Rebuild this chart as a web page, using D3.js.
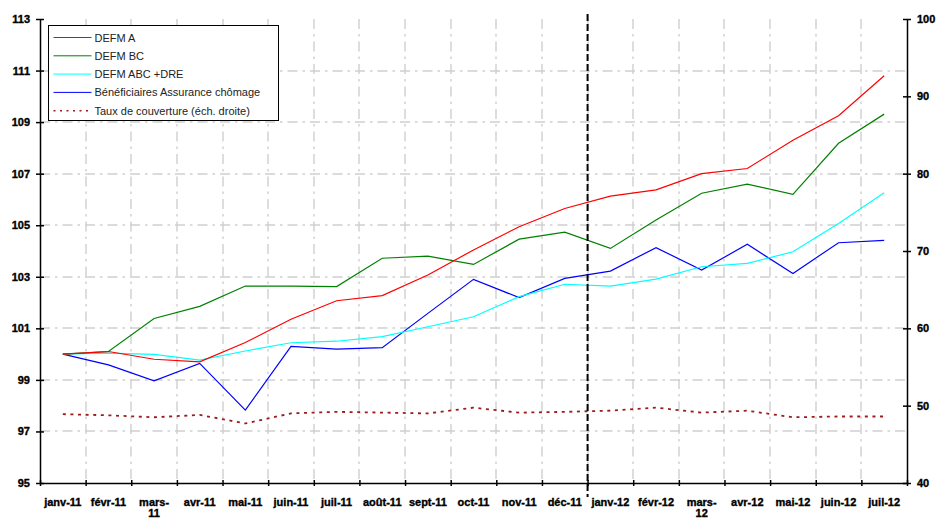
<!DOCTYPE html>
<html>
<head>
<meta charset="utf-8">
<script src="https://cdn.jsdelivr.net/npm/d3@7"></script>
<style>
  body { margin: 0; background: #fff; }
  svg { display: block; font-family: "Liberation Sans", Arial, sans-serif; }
  .axis text { font-size: 11px; font-weight: bold; fill: #000; stroke: #000; stroke-width: 0.35px; }
  .axis path, .axis line { stroke: #000; stroke-width: 1.5px; }
</style>
</head>
<body>
<script>
  //==DATA==//
  const months = ["janv-11","févr-11","mars-11","avr-11","mai-11","juin-11","juil-11","août-11","sept-11","oct-11","nov-11","déc-11",
    "janv-12","févr-12","mars-12","avr-12","mai-12","juin-12","juil-12"];

  const defmA = [100, 100.1, 99.8, 99.7, 100.45, 101.35, 102.07, 102.27, 103.07, 104.04, 104.94, 105.65,
    106.13, 106.37, 107.0, 107.2, 108.3, 109.25, 110.8];
  const defmBC = [100, 100.1, 101.38, 101.85, 102.64, 102.64, 102.62, 103.72, 103.8, 103.48, 104.46, 104.73,
    104.1, 105.2, 106.24, 106.59, 106.2, 108.18, 109.31];
  const defmABCDRE = [100, 100.04, 99.99, 99.77, 100.12, 100.44, 100.5, 100.68, 101.06, 101.45, 102.23, 102.71,
    102.64, 102.91, 103.39, 103.52, 103.97, 105.07, 106.26];
  const beneficiaires = [100, 99.58, 98.96, 99.64, 97.83, 100.3, 100.19, 100.25, 101.58, 102.9, 102.19, 102.94,
    103.22, 104.13, 103.26, 104.26, 103.13, 104.32, 104.41];
  const tauxCouverture = [48.9, 48.75, 48.5, 48.8, 47.7, 49.0, 49.2, 49.1, 49.0, 49.74, 49.1, 49.2,
    49.35, 49.74, 49.1, 49.35, 48.5, 48.6, 48.6];

  const leftTicks = [95, 97, 99, 101, 103, 105, 107, 109, 111, 113];
  const rightTicks = [40, 50, 60, 70, 80, 90, 100];
  const legendLabels = ["DEFM A", "DEFM BC", "DEFM ABC  +DRE", "Bénéficiaires Assurance chômage", "Taux de couverture (éch. droite)"];

  //=SVG AREA=//
  const width = 938;
  const height = 522;
  const plotLeft = 40, plotRight = 907, plotTop = 19, plotBottom = 483;

  const svg = d3.select("body")
  .append("svg")
  .attr("width", width)
  .attr("height", height);

  //==SCALES==//
  const x = d3.scaleBand().domain(months).range([plotLeft, plotRight]).padding(0);
  const xEdge = d3.scaleLinear().domain([0, months.length]).range([plotLeft, plotRight]);
  const yLeft = d3.scaleLinear().domain([95, 113]).range([plotBottom, plotTop]);
  const yRight = d3.scaleLinear().domain([40, 100]).range([plotBottom, plotTop]);
  const cx = (i) => x(months[i]) + x.bandwidth() / 2;

  //==GRID==//
  const grid = svg.append("g").attr("stroke", "#cfcfcf").attr("stroke-width", 1.4)
  .attr("stroke-dasharray", "10,5,2.5,5");

  grid.selectAll(".hgrid")
  .data(leftTicks.filter(d => d > 95 && d < 113))
  .enter()
  .append("line")
  .attr("x1", plotLeft).attr("x2", plotRight)
  .attr("y1", d => Math.round(yLeft(d)))
  .attr("y2", d => Math.round(yLeft(d)));

  grid.selectAll(".vgrid")
  .data(d3.range(1, months.length))
  .enter()
  .append("line")
  .attr("x1", d => Math.round(xEdge(d)))
  .attr("x2", d => Math.round(xEdge(d)))
  .attr("y1", plotTop).attr("y2", plotBottom);

  //==AXES==//
  const axisLeft = svg.append("g")
  .attr("class", "axis")
  .attr("transform", "translate(" + plotLeft + ",0)")
  .call(d3.axisLeft(yLeft).tickValues(leftTicks).tickSizeInner(4).tickSizeOuter(0).tickPadding(6));
  axisLeft.selectAll(".tick line").attr("x1", 4);

  const axisRight = svg.append("g")
  .attr("class", "axis")
  .attr("transform", "translate(" + plotRight + ",0)")
  .call(d3.axisRight(yRight).tickValues(rightTicks).tickSizeInner(4).tickSizeOuter(0).tickPadding(6));
  axisRight.selectAll(".tick line").attr("x1", -4);

  // tick marks at category edges
  const axisTicks = svg.append("g")
  .attr("class", "axis")
  .attr("transform", "translate(0," + plotBottom + ")")
  .call(d3.axisBottom(xEdge).tickValues(d3.range(0, months.length + 1)).tickFormat("").tickSizeInner(3).tickSizeOuter(0));
  axisTicks.selectAll(".tick line").attr("y1", -3);

  // month labels between ticks, "mars" wrapped on two lines
  const axisLabels = svg.append("g")
  .attr("class", "axis")
  .attr("transform", "translate(0," + plotBottom + ")")
  .call(d3.axisBottom(x).tickSize(0).tickPadding(15));
  axisLabels.select(".domain").remove();
  axisLabels.selectAll(".tick text").each(function(d) {
    if (d.indexOf("mars") === 0) {
      const t = d3.select(this);
      const parts = d.split("-");
      t.text(null);
      t.append("tspan").attr("x", 0).text(parts[0] + "-");
      t.append("tspan").attr("x", 0).attr("dy", "1.05em").text(parts[1]);
    }
  });

  //==LINES==//
  const lineLeft = d3.line().x((d, i) => cx(i)).y(d => yLeft(d));
  const lineRight = d3.line().x((d, i) => cx(i)).y(d => yRight(d));

  svg.append("path").datum(tauxCouverture)
  .attr("fill", "none").attr("stroke", "#9a1c1c").attr("stroke-width", 1.8)
  .attr("stroke-dasharray", "3,4.6").attr("d", lineRight);

  const series = [
    {data: beneficiaires, colour: "#0000ff"},
    {data: defmABCDRE, colour: "#00ffff"},
    {data: defmBC, colour: "#008000"},
    {data: defmA, colour: "#ff0000"}
  ];
  series.forEach(function(s) {
    svg.append("path").datum(s.data)
    .attr("fill", "none").attr("stroke", s.colour).attr("stroke-width", 1.2)
    .attr("d", lineLeft);
  });

  // break between 2011 and 2012
  svg.append("line")
  .attr("x1", xEdge(12)).attr("x2", xEdge(12))
  .attr("y1", 14).attr("y2", 497)
  .attr("stroke", "#000").attr("stroke-width", 2)
  .attr("stroke-dasharray", "7,3");

  //==LEGEND==//
  const legend = svg.append("g").attr("transform", "translate(48.5,25.5)");
  legend.append("rect")
  .attr("width", 230).attr("height", 95)
  .attr("fill", "#fff").attr("stroke", "#000").attr("stroke-width", 1);

  const legendColours = ["#ff0000", "#008000", "#00ffff", "#0000ff", "#9a1c1c"];
  const rows = legend.selectAll(".row")
  .data(legendLabels)
  .enter()
  .append("g")
  .attr("transform", (d, i) => "translate(0," + (12 + i * 18.3) + ")");

  rows.append("line")
  .attr("x1", 5).attr("x2", 43)
  .attr("stroke", (d, i) => legendColours[i])
  .attr("stroke-width", (d, i) => i === 4 ? 1.5 : 1)
  .attr("stroke-dasharray", (d, i) => i === 4 ? "2,4.5" : null);

  rows.append("text")
  .attr("x", 46).attr("y", 4)
  .attr("font-size", 11)
  .attr("fill", "#222")
  .text(d => d);
</script>
</body>
</html>
